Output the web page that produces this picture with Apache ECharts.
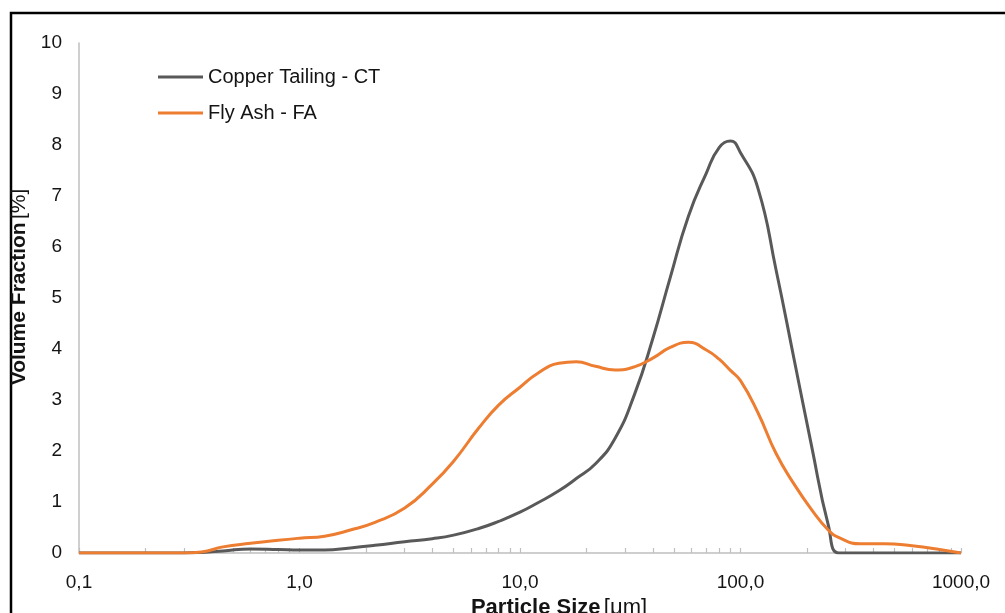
<!DOCTYPE html>
<html>
<head>
<meta charset="utf-8">
<script src="https://cdn.jsdelivr.net/npm/echarts@6/dist/echarts.min.js"></script>
<style>
  html, body { margin: 0; padding: 0; background: #fff; }
  #chart { width: 1005px; height: 613px; }
</style>
</head>
<body>
<div id="chart"></div>
<script>
// particle size [µm]
var sizes = [0.1, 0.2, 0.3, 0.36, 0.45, 0.6, 0.8, 1.0, 1.3, 1.7, 2.2, 3, 4, 5, 6.5, 8, 10,
    12, 15, 18, 22, 27, 33, 40, 48, 58, 70, 80, 90, 100, 120, 145, 175, 210, 250, 280, 350,
    450, 600, 800, 1000];
// volume fraction [%]
var copperTailing = [0, 0, 0, 0.01, 0.04, 0.08, 0.07, 0.06, 0.06, 0.1, 0.15, 0.22, 0.28,
    0.35, 0.48, 0.62, 0.8, 0.98, 1.22, 1.46, 1.75, 2.25, 3.1, 4.2, 5.4, 6.6, 7.45, 7.95, 8.08,
    7.85, 7.15, 5.55, 3.8, 2.1, 0.55, 0, 0, 0, 0, 0, 0];
var flyAsh = [0, 0, 0, 0.02, 0.12, 0.19, 0.25, 0.29, 0.33, 0.45, 0.6, 0.88, 1.35, 1.8,
    2.45, 2.9, 3.25, 3.52, 3.72, 3.75, 3.66, 3.59, 3.65, 3.82, 4.03, 4.13, 3.98, 3.8, 3.58,
    3.38, 2.75, 1.95, 1.35, 0.85, 0.45, 0.3, 0.18, 0.18, 0.14, 0.07, 0];
var minorTicks = [];
[0.1, 1, 10, 100].forEach(function (d) {
    for (var k = 1; k <= 9; k++) minorTicks.push(+(k * d).toPrecision(3));
});
minorTicks.push(1000);

function pairs(ys) {
    return sizes.map(function (x, i) { return [x, ys[i]]; });
}

var chartDom = document.getElementById('chart');
var myChart = echarts.init(chartDom);
var textColor = '#141414';
var font = 'Liberation Sans, Arial, sans-serif';

var option = {
    animation: false,
    textStyle: { fontFamily: font },
    grid: { left: 79, right: 44, top: 43, bottom: 60, containLabel: false, outerBoundsMode: 'none' },
    legend: {
        orient: 'vertical',
        left: 158,
        top: 67,
        padding: 0,
        icon: 'rect',
        itemWidth: 45,
        itemHeight: 3,
        itemGap: 16,
        textStyle: { fontSize: 20, color: textColor, fontFamily: font },
        data: ['Copper Tailing - CT', 'Fly Ash - FA']
    },
    graphic: [{
        type: 'rect',
        shape: { x: 11, y: 13, width: 1100, height: 700 },
        style: { fill: null, stroke: '#000', lineWidth: 2.5 },
        silent: true
    }],
    xAxis: {
        type: 'log',
        logBase: 10,
        min: 0.1,
        max: 1000,
        name: '{b|Particle Size} {n|[μm]}',
        nameLocation: 'middle',
        nameGap: 44,
        nameTextStyle: {
            padding: [0, 0, 0, 78],
            rich: {
                b: { fontSize: 22, fontWeight: 'bold', color: textColor, fontFamily: font },
                n: { fontSize: 22, color: textColor, fontFamily: font }
            }
        },
        axisLine: { lineStyle: { color: '#bfbfbf', width: 1.5 } },
        axisTick: { show: true, inside: true, length: 5, customValues: minorTicks,
            lineStyle: { color: '#bfbfbf', width: 1.2 } },
        splitLine: { show: false },
        axisLabel: {
            fontSize: 19,
            color: textColor,
            margin: 20,
            formatter: function (v) { return v.toFixed(1).replace('.', ','); }
        }
    },
    yAxis: {
        type: 'value',
        min: 0,
        max: 10,
        interval: 1,
        name: '{b|Volume Fraction} {n|[%]}',
        nameLocation: 'middle',
        nameGap: 49,
        nameTextStyle: {
            padding: [0, 0, 0, 22],
            rich: {
                b: { fontSize: 21, fontWeight: 'bold', color: textColor, fontFamily: font },
                n: { fontSize: 21, color: textColor, fontFamily: font }
            }
        },
        axisLine: { show: true, lineStyle: { color: '#bfbfbf', width: 1.5 } },
        axisTick: { show: false },
        splitLine: { show: false },
        axisLabel: { fontSize: 19, color: textColor, margin: 17 }
    },
    series: [
        {
            name: 'Copper Tailing - CT',
            type: 'line',
            smooth: 0.5,
            symbol: 'none',
            data: pairs(copperTailing),
            lineStyle: { color: '#595959', width: 3 },
            itemStyle: { color: '#595959' },
            z: 3
        },
        {
            name: 'Fly Ash - FA',
            type: 'line',
            smooth: 0.5,
            symbol: 'none',
            data: pairs(flyAsh),
            lineStyle: { color: '#ED7D31', width: 3 },
            itemStyle: { color: '#ED7D31' },
            z: 4
        }
    ]
};

option && myChart.setOption(option);
</script>
</body>
</html>
